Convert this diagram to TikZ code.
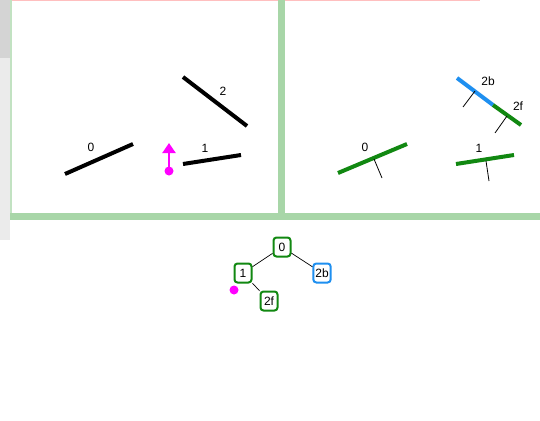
\documentclass[tikz,border=0pt]{standalone}
\usepackage{fontspec}
\setmainfont{Liberation Sans}
\usetikzlibrary{arrows.meta}
\definecolor{bandgreen}{HTML}{A8D6A8}
\definecolor{segg}{HTML}{118811}
\definecolor{segb}{HTML}{1E8FF0}
\definecolor{mag}{HTML}{FF00FF}
\definecolor{stripA}{HTML}{D4D4D4}
\definecolor{stripB}{HTML}{EBEBEB}
\tikzset{
  lbl/.style={inner sep=0pt, font=\fontsize{12}{14}\selectfont},
  blackseg/.style={line width=4pt, black},
  greenseg/.style={line width=4pt, segg},
  blueseg/.style={line width=4pt, segb},
  tick/.style={line width=0.8pt, black},
  band/.style={bandgreen},
  tnode/.style={draw=segg, line width=2pt, rounded corners=3pt, minimum height=19pt, minimum width=17pt, inner sep=2pt, font=\fontsize{12}{14}\selectfont, fill=white},
  tnodeb/.style={tnode, draw=segb},
  tedge/.style={line width=0.7pt, black},
}
\begin{document}
\begin{tikzpicture}[x=1pt,y=-1pt]
\useasboundingbox (0,0) rectangle (540,420);
\fill[white] (0,0) rectangle (540,420);
% left strip
\fill[stripA] (0,0) rectangle (10,58);
\fill[stripB] (0,58) rectangle (10,240);
\fill[red!25] (10,0) rectangle (480,1);
% panel separators
\fill[bandgreen!70] (10,0) rectangle (12,216);
\fill[band] (278,0) rectangle (285,216);
\fill[band] (10,213) rectangle (540,220);

% ---- left panel ----
\coordinate (a0) at (65,174); \coordinate (b0) at (133,144);
\coordinate (a1) at (183,164); \coordinate (b1) at (241,155);
\coordinate (a2) at (183,77);  \coordinate (b2) at (247,126);
\draw[blackseg] (a0) -- (b0);
\draw[blackseg] (a1) -- (b1);
\draw[blackseg] (a2) -- (b2);
\node[lbl] (l0) at (91,147) {0};
\node[lbl] (l1) at (205,148) {1};
\node[lbl] (l2) at (223,91) {2};
\coordinate (pdot) at (169,171);
\coordinate (ptip) at (169,143);
\draw[mag, line width=2pt, -{Triangle[length=10pt,width=13pt]}] (pdot) -- (ptip);
\fill[mag] (pdot) circle (4.5pt);

% ---- right panel ----
\coordinate (c0) at (338,173); \coordinate (d0) at (407,144);
\coordinate (c1) at (456,164); \coordinate (d1) at (514,155);
\coordinate (c2) at (457,78);  \coordinate (m2) at (493,105); \coordinate (d2) at (521,125);
\draw[greenseg] (c0) -- (d0);
\draw[greenseg] (c1) -- (d1);
\draw[blueseg] (c2) -- (m2);
\draw[greenseg] (m2) -- (d2);
\coordinate (t0a) at (374,159); \coordinate (t0b) at (382,178);
\coordinate (t1a) at (486,161); \coordinate (t1b) at (489,181);
\coordinate (t2a) at (475,91);  \coordinate (t2b) at (463,107);
\coordinate (t3a) at (507,116); \coordinate (t3b) at (495,133);
\draw[tick] (t0a) -- (t0b);
\draw[tick] (t1a) -- (t1b);
\draw[tick] (t2a) -- (t2b);
\draw[tick] (t3a) -- (t3b);
\node[lbl] (r0) at (365,147) {0};
\node[lbl] (r1) at (479,148) {1};
\node[lbl] (r2b) at (488,81) {2b};
\node[lbl] (r2f) at (518,106) {2f};

% ---- tree ----
\node[tnode] (n0) at (282,247) {0};
\node[tnode] (n1) at (243,273) {1};
\node[tnodeb] (n2b) at (322,273) {2b};
\node[tnode] (n2f) at (269,301) {2f};
\draw[tedge] (n0) -- (n1);
\draw[tedge] (n0) -- (n2b);
\draw[tedge] (n1) -- (n2f);
\fill[mag] (234,290) circle (4.5pt);
\end{tikzpicture}
\end{document}
